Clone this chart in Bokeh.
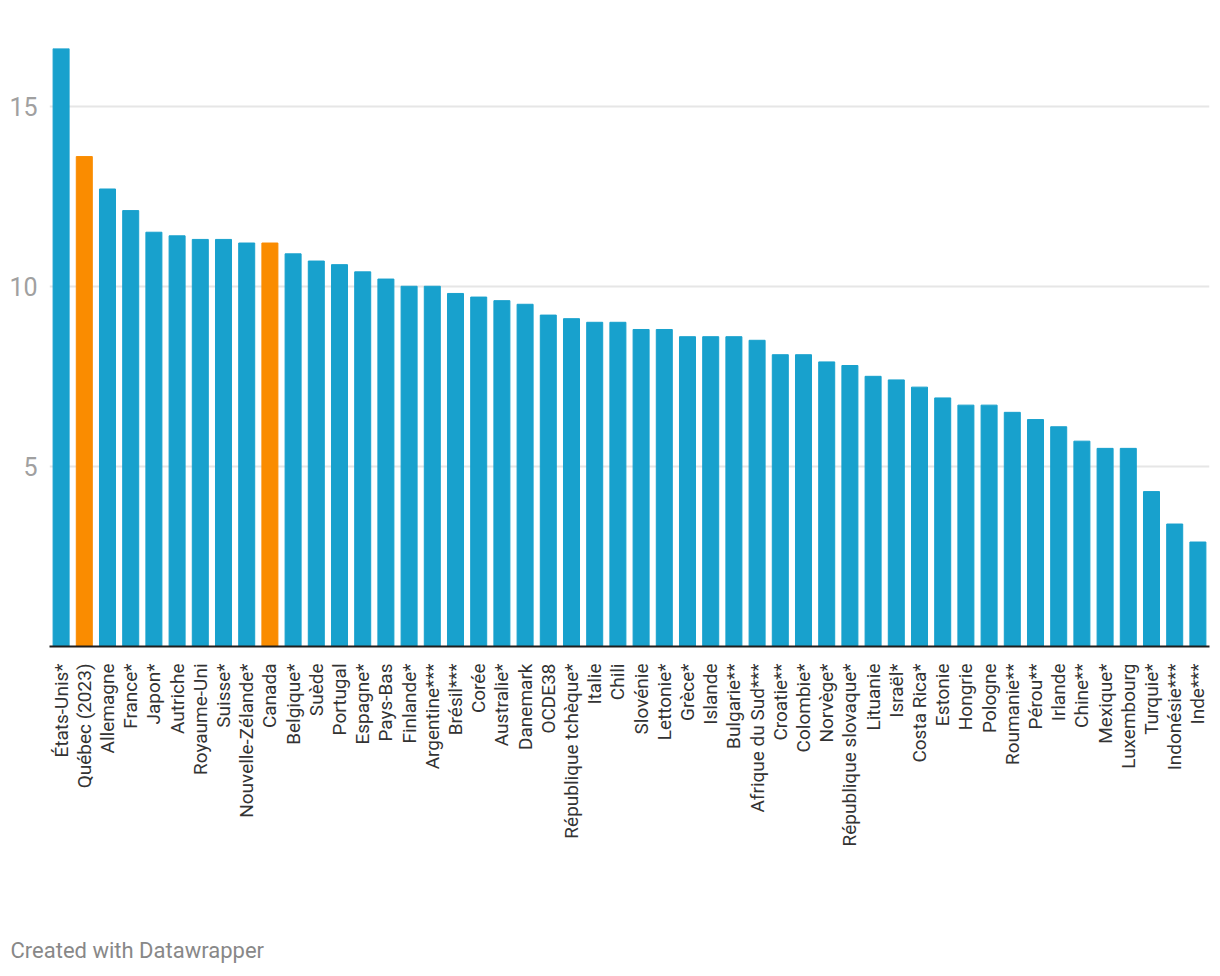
import math
from bokeh.plotting import figure
from bokeh.models import ColumnDataSource, FixedTicker, Title, FactorRange
from bokeh.embed import file_html
from bokeh.resources import INLINE

countries = ["États-Unis*", "Québec (2023)", "Allemagne", "France*", "Japon*", "Autriche",
             "Royaume-Uni", "Suisse*", "Nouvelle-Zélande*", "Canada", "Belgique*", "Suède",
             "Portugal", "Espagne*", "Pays-Bas", "Finlande*", "Argentine***", "Brésil***",
             "Corée", "Australie*", "Danemark", "OCDE38", "République tchèque*", "Italie",
             "Chili", "Slovénie", "Lettonie*", "Grèce*", "Islande", "Bulgarie**",
             "Afrique du Sud***", "Croatie**", "Colombie*", "Norvège*", "République slovaque*",
             "Lituanie", "Israël*", "Costa Rica*", "Estonie", "Hongrie", "Pologne",
             "Roumanie**", "Pérou**", "Irlande", "Chine**", "Mexique*", "Luxembourg",
             "Turquie*", "Indonésie***", "Inde***"]
values = [16.6, 13.6, 12.7, 12.1, 11.5, 11.4, 11.3, 11.3, 11.2, 11.2, 10.9, 10.7,
          10.6, 10.4, 10.2, 10.0, 10.0, 9.8, 9.7, 9.6, 9.5, 9.2, 9.1, 9.0,
          9.0, 8.8, 8.8, 8.6, 8.6, 8.6, 8.5, 8.1, 8.1, 7.9, 7.8, 7.5,
          7.4, 7.2, 6.9, 6.7, 6.7, 6.5, 6.3, 6.1, 5.7, 5.5, 5.5, 4.3, 3.4, 2.9]
highlighted = ["Québec (2023)", "Canada"]
y_ticks = [5, 10, 15]
credit = "Created with Datawrapper"

BLUE = "#18a1cd"
ORANGE = "#fa8c00"
colors = [ORANGE if c in highlighted else BLUE for c in countries]

src = ColumnDataSource(dict(x=countries, top=values, color=colors))

p = figure(x_range=FactorRange(*countries, range_padding=0), y_range=(0, 16.6),
           frame_width=1160, frame_height=598,
           min_border_left=49, min_border_top=48, min_border_right=4, min_border_bottom=4,
           output_backend="svg", toolbar_location=None, tools="")

p.vbar(x="x", top="top", width=0.69, color="color", source=src)

p.outline_line_color = None
p.background_fill_color = "white"
p.border_fill_color = "white"

p.xgrid.grid_line_color = None
p.ygrid.grid_line_color = "#e6e6e6"
p.ygrid.grid_line_width = 2
p.ygrid.ticker = FixedTicker(ticks=y_ticks)

p.yaxis.ticker = FixedTicker(ticks=y_ticks)
p.yaxis.axis_line_color = None
p.yaxis.major_tick_line_color = None
p.yaxis.minor_tick_line_color = None
p.yaxis.major_tick_out = 0
p.yaxis.major_label_standoff = 12
p.yaxis.major_label_text_font = "Roboto"
p.yaxis.major_label_text_font_size = "25px"
p.yaxis.major_label_text_color = "#a0a0a0"

p.xaxis.axis_line_color = "#1d1d1d"
p.xaxis.axis_line_width = 2
p.xaxis.major_tick_line_color = None
p.xaxis.major_tick_out = 0
p.xaxis.major_tick_in = 0
p.xaxis.major_label_standoff = 17
p.xaxis.major_label_orientation = math.pi / 2
p.xaxis.major_label_text_font = "Roboto"
p.xaxis.major_label_text_font_size = "19px"
p.xaxis.major_label_text_color = "#333333"

t = Title(text=credit, align="left", offset=-39, standoff=173,
          text_font="Roboto", text_font_size="22px", text_color="#888888",
          text_font_style="normal")
p.add_layout(t, "below")

open("out.html", "w").write(file_html(p, INLINE))
